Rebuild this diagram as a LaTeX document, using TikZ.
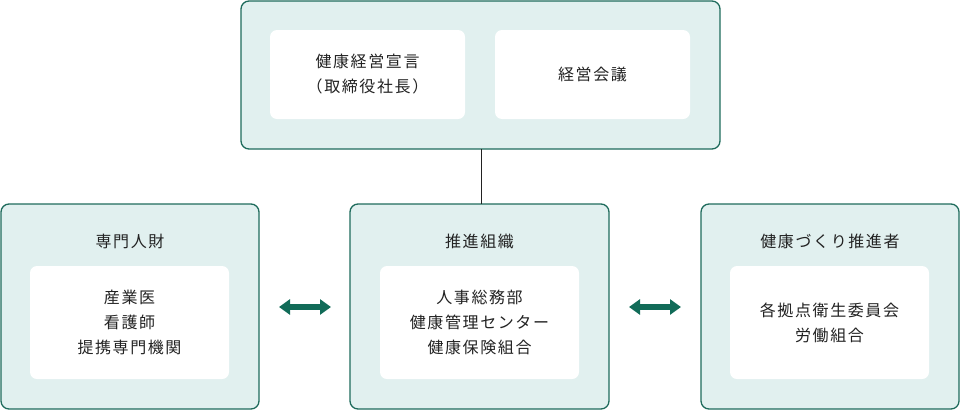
\documentclass[tikz,border=0pt]{standalone}
\usepackage{fontspec}
\setmainfont{Noto Sans CJK JP}[LetterSpace=10]
\usetikzlibrary{arrows.meta}
\definecolor{bord}{HTML}{1E6B5C}
\definecolor{fillc}{HTML}{E1F0EF}
\definecolor{arr}{HTML}{116B58}
\definecolor{txt}{HTML}{222222}
\tikzset{
 outer/.style={draw=bord,line width=1.3pt,fill=fillc,rounded corners=8pt},
 inner/.style={fill=white,rounded corners=7pt},
 lbl/.style={text=txt,font=\fontsize{16}{25}\selectfont,align=center},
 dbl/.style={arr,line width=6pt,{Triangle[width=15pt,length=11pt]}-{Triangle[width=15pt,length=11pt]}}
}
\begin{document}
\begin{tikzpicture}[x=1pt,y=-1pt]
\useasboundingbox (0,0) rectangle (960,410);
% top
\draw[outer] (241,1) rectangle (720,149);
\node[coordinate] (topb) at (481,149) {};
\fill[inner] (270,30) rectangle (465,119);
\fill[inner] (495,30) rectangle (690,119);
\node[lbl] (t1) at (367.5,74.5) {健康経営宣言\\（取締役社長）};
\node[lbl] (t2) at (592.5,74.5) {経営会議};
% boxes
\draw[outer] (1,204) rectangle (259,409);
\draw[outer] (350,204) rectangle (609,409);
\draw[outer] (701,204) rectangle (959,409);
\node[coordinate] (cent) at (481,204) {};
\draw[txt,line width=0.8pt] (topb) -- (cent);
\node[lbl] (h1) at (130,241) {専門人財};
\node[lbl] (h2) at (479.5,241) {推進組織};
\node[lbl] (h3) at (830,241) {健康づくり推進者};
\fill[inner] (30,266) rectangle (229,379);
\fill[inner] (380,266) rectangle (579,379);
\fill[inner] (730,266) rectangle (929,379);
\node[lbl] (b1) at (129.5,322.5) {産業医\\看護師\\提携専門機関};
\node[lbl] (b2) at (479.5,322.5) {人事総務部\\健康管理センター\\健康保険組合};
\node[lbl] (b3) at (829.5,322.5) {各拠点衛生委員会\\労働組合};
\node[coordinate] (a1) at (279,307) {};
\node[coordinate] (a2) at (331,307) {};
\node[coordinate] (a3) at (629,307) {};
\node[coordinate] (a4) at (681,307) {};
\draw[dbl] (a1) -- (a2);
\draw[dbl] (a3) -- (a4);
\end{tikzpicture}
\end{document}
